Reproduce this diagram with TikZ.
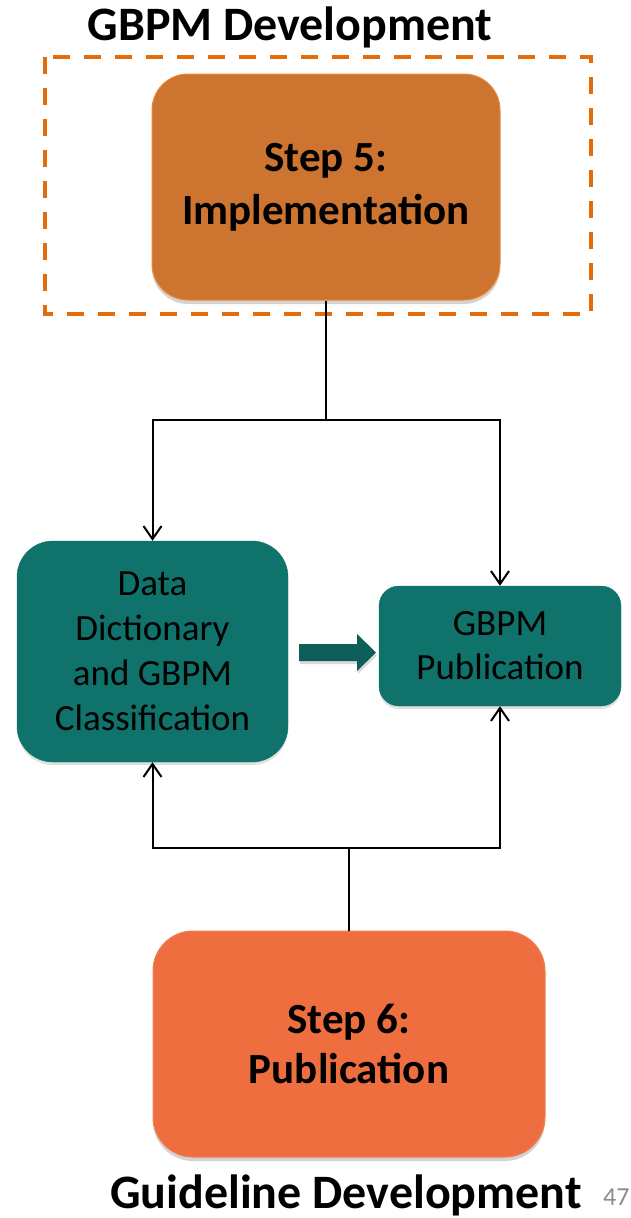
\documentclass[tikz,border=0pt]{standalone}
\usepackage{fontspec}
\setmainfont{Carlito}
\usetikzlibrary{arrows.meta,shadows}
\definecolor{dashor}{HTML}{E46C0A}
\definecolor{sfivefill}{HTML}{CD7530}
\definecolor{sfiveline}{HTML}{E98B3E}
\definecolor{tealbox}{HTML}{10736B}
\definecolor{tealarrow}{HTML}{0D5E58}
\definecolor{ssixfill}{HTML}{EF6E40}
\definecolor{pagegray}{HTML}{8C8C8C}
\tikzset{
  stepbox/.style={draw=sfiveline, line width=1pt, rounded corners=36pt, align=center,
    font=\bfseries\fontsize{43}{53}\selectfont, text=black,
    drop shadow={opacity=0.35, shadow xshift=0pt, shadow yshift=-4pt}},
  tealnode/.style={fill=tealbox, draw=tealbox, align=center, text=black,
    drop shadow={opacity=0.25, shadow xshift=0pt, shadow yshift=-3pt}},
  conn/.style={line width=2pt, draw=black},
  arr/.style={conn, -{Straight Barb[length=13pt,width=18pt,line width=2pt]}},
  heading/.style={font=\bfseries\fontsize{48}{52}\selectfont, text=black, inner sep=0pt}
}
\begin{document}
\begin{tikzpicture}[x=1pt,y=-1pt]
\useasboundingbox (0,0) rectangle (631,1218);
% titles
\node[heading, anchor=base] (t1) at (290,40) {GBPM Development};
\node[heading, anchor=base] (t2) at (346,1208) {Guideline Development};
\node[font=\fontsize{26}{28}\selectfont, text=pagegray, anchor=base west, inner sep=0pt] (pg) at (603,1205) {47};
% dashed frame
\draw[dashor, line width=4.5pt, dash pattern=on 17pt off 14pt] (45,57) rectangle (591,314);
% step boxes
\node[stepbox, fill=sfivefill, minimum width=348pt, minimum height=226pt] (s5) at (326,187) {Step 5:\\Implementation};
\node[stepbox, fill=ssixfill, draw=ssixfill!90!white, rounded corners=40pt, minimum width=392pt, minimum height=226pt,
  font=\bfseries\fontsize{43}{50}\selectfont] (s6) at (349,1044) {Step 6:\\Publication};
% teal boxes
\node[tealnode, rounded corners=36pt, minimum width=271pt, minimum height=221pt,
  font=\fontsize{37}{45}\selectfont] (dd) at (152.5,651.5) {Data\\Dictionary\\and GBPM\\Classification};
\node[tealnode, rounded corners=20pt, minimum width=242pt, minimum height=120pt,
  font=\fontsize{37}{44}\selectfont] (pub) at (500,646) {GBPM\\Publication};
% connectors top
\coordinate (j1) at (326,420);
\draw[conn] (s5.south) -- (j1);
\draw[arr] (j1) -| (dd.north);
\draw[arr] (j1) -| (pub.north);
% connectors bottom
\coordinate (j2) at (349,848);
\draw[conn] (s6.north) -- (j2);
\draw[arr] (j2) -| (dd.south);
\draw[arr] (j2) -| (pub.south);
% block arrow
\fill[tealarrow, drop shadow={opacity=0.3, shadow xshift=1pt, shadow yshift=-3pt}]
  (299,644) -- (357,644) -- (357,634) -- (376,652.5) -- (357,671) -- (357,661) -- (299,661) -- cycle;
\end{tikzpicture}
\end{document}
